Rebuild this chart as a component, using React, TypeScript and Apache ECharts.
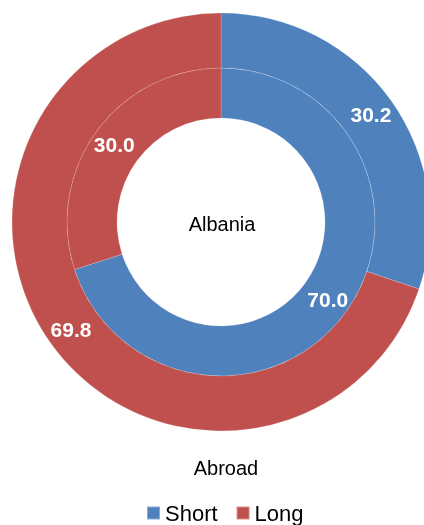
import React, { useEffect, useRef } from "react";
import * as echarts from "echarts";

const categories = ["Short", "Long"];
const albaniaValues = [70.0, 30.0];
const abroadValues = [30.2, 69.8];
const colors = ["#4F81BD", "#C0504D"];
const FONT = "Liberation Sans, Arial, sans-serif";

export default function App() {
  const ref = useRef<HTMLDivElement>(null);
  useEffect(() => {
    if (!ref.current) return;
    const chart = echarts.init(ref.current, undefined, { renderer: "svg" });
    const label = {
      show: true,
      position: "inside",
      color: "#ffffff",
      fontWeight: "bold",
      fontSize: 21,
      fontFamily: FONT,
      formatter: (p: any) => Number(p.value).toFixed(1),
    };
    const itemStyle = { borderColor: "rgba(255,255,255,0.35)", borderWidth: 0.5 };
    chart.setOption({
      animation: false,
      color: colors,
      legend: {
        data: categories,
        top: 500,
        left: 141,
        padding: [2, 5, 2, 5],
        itemWidth: 13,
        itemHeight: 13,
        itemGap: 18,
        icon: "rect",
        textStyle: { fontSize: 22, color: "#000", fontFamily: FONT },
      },
      graphic: [
        {
          type: "text",
          x: 222,
          y: 224,
          style: { text: "Albania", fontSize: 20, fontFamily: FONT, fill: "#000", textAlign: "center", textVerticalAlign: "middle" },
        },
        {
          type: "text",
          x: 226,
          y: 468,
          style: { text: "Abroad", fontSize: 20, fontFamily: FONT, fill: "#000", textAlign: "center", textVerticalAlign: "middle" },
        },
      ],
      series: [
        {
          name: "Albania",
          type: "pie",
          center: [221, 222],
          radius: [104, 154],
          startAngle: 90,
          clockwise: true,
          label,
          labelLine: { show: false },
          itemStyle,
          emphasis: { disabled: true },
          data: categories.map((c, i) => ({ name: c, value: albaniaValues[i] })),
        },
        {
          name: "Abroad",
          type: "pie",
          center: [221, 222],
          radius: [154, 209],
          startAngle: 90,
          clockwise: true,
          label,
          labelLine: { show: false },
          itemStyle,
          emphasis: { disabled: true },
          data: categories.map((c, i) => ({ name: c, value: abroadValues[i] })),
        },
      ],
    });
    return () => chart.dispose();
  }, []);
  return <div ref={ref} style={{ position: "fixed", left: 0, top: 0, width: 424, height: 525 }} />;
}
